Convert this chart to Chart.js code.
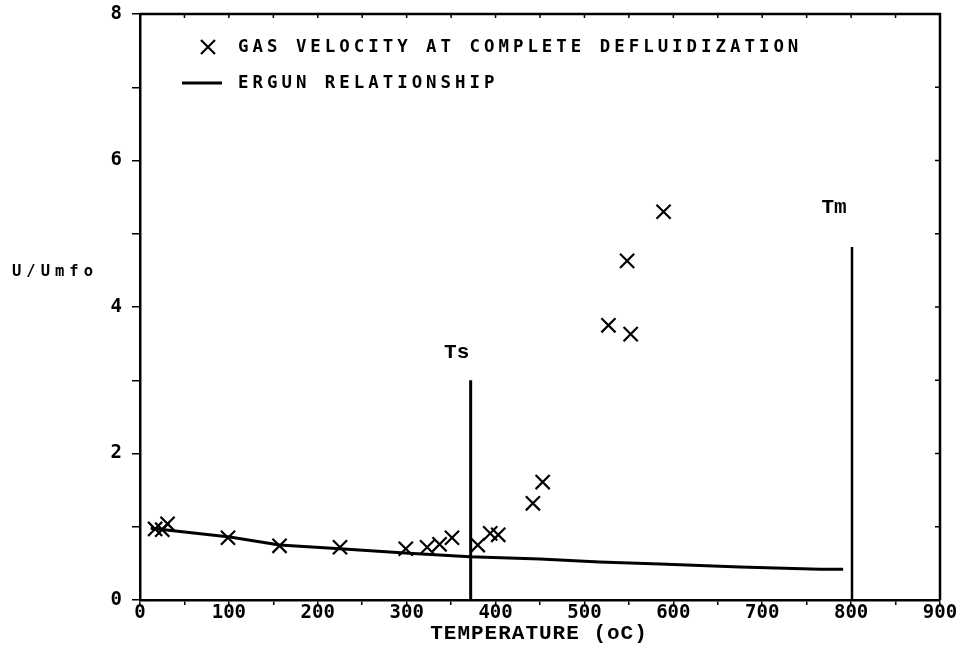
<!DOCTYPE html>
<html>
<head>
<meta charset="utf-8">
<script src="https://cdn.jsdelivr.net/npm/chart.js@4"></script>
<style>
html,body{margin:0;padding:0;background:#fff;}
#wrap{width:969px;height:654px;position:relative;}
</style>
</head>
<body>
<div id="wrap"><canvas id="c" width="969" height="654"></canvas></div>
<script>
// ---- data ----
const defluidTemps = [17, 25, 31, 99, 157, 225, 299, 323, 337, 351, 380, 394, 403, 442, 453, 527, 548, 552, 589];
const defluidRatio = [0.97, 0.96, 1.04, 0.85, 0.74, 0.72, 0.70, 0.72, 0.76, 0.85, 0.75, 0.91, 0.89, 1.32, 1.61, 3.75, 4.63, 3.63, 5.30];

const ergunTemps = [12, 101, 157, 225, 298, 371, 450, 517, 585, 675, 765, 791];
const ergunRatio = [0.98, 0.86, 0.75, 0.70, 0.64, 0.59, 0.56, 0.52, 0.49, 0.45, 0.42, 0.42];

const tsTemp = 372, tsTop = 3.0;
const tmTemp = 801, tmTop = 4.82;

const xTickLabels = [0, 100, 200, 300, 400, 500, 600, 700, 800, 900];
const yTickLabels = [0, 2, 4, 6, 8];

const legendLabels = ['GAS VELOCITY AT COMPLETE DEFLUIDIZATION', 'ERGUN RELATIONSHIP'];
const xTitle = 'TEMPERATURE (oC)';
const yTitle = 'U/Umfo';

// ---- chart ----
const pts = defluidTemps.map((t, i) => ({x: t, y: defluidRatio[i]}));
const ergun = ergunTemps.map((t, i) => ({x: t, y: ergunRatio[i]}));

const decor = {
  id: 'decor',
  afterDraw(chart) {
    const ctx = chart.ctx;
    const ca = chart.chartArea;
    const xs = chart.scales.x, ys = chart.scales.y;
    ctx.save();
    ctx.strokeStyle = '#000';
    ctx.fillStyle = '#000';
    // top & right frame
    ctx.lineWidth = 2.5;
    ctx.beginPath();
    ctx.moveTo(ca.left, ca.top); ctx.lineTo(ca.right, ca.top); ctx.lineTo(ca.right, ca.bottom);
    ctx.stroke();
    // inward ticks on top & right
    ctx.lineWidth = 1.5;
    for (let v = 50; v < 900; v += 50) {
      const px = xs.getPixelForValue(v);
      ctx.beginPath(); ctx.moveTo(px, ca.top); ctx.lineTo(px, ca.top + 4); ctx.stroke();
    }
    for (let v = 1; v < 8; v++) {
      const py = ys.getPixelForValue(v);
      ctx.beginPath(); ctx.moveTo(ca.right, py); ctx.lineTo(ca.right - 5, py); ctx.stroke();
    }
    // legend
    ctx.letterSpacing = '4px';
    ctx.font = 'bold 17.4px "DejaVu Sans Mono"';
    ctx.textBaseline = 'middle';
    ctx.textAlign = 'left';
    ctx.fillText(legendLabels[0], 238, 47);
    ctx.fillText(legendLabels[1], 238, 83);
    ctx.lineWidth = 2.2;
    ctx.beginPath();
    ctx.moveTo(201, 40); ctx.lineTo(215, 54);
    ctx.moveTo(215, 40); ctx.lineTo(201, 54);
    ctx.stroke();
    ctx.lineWidth = 3;
    ctx.beginPath(); ctx.moveTo(182, 83); ctx.lineTo(222, 83); ctx.stroke();
    // y title
    ctx.letterSpacing = '5px';
    ctx.font = 'bold 15.5px "DejaVu Sans Mono"';
    ctx.fillText(yTitle, 12, 272);
    // x title
    ctx.letterSpacing = '1px';
    ctx.font = 'bold 21px "Liberation Mono"';
    ctx.textAlign = 'center';
    ctx.fillText(xTitle, 539, 634);
    // Ts / Tm
    ctx.letterSpacing = '0px';
    ctx.fillText('Ts', xs.getPixelForValue(tsTemp) - 14, 353);
    ctx.fillText('Tm', xs.getPixelForValue(tmTemp) - 18, 208);
    ctx.restore();
  }
};

new Chart(document.getElementById('c'), {
  type: 'scatter',
  data: {
    datasets: [
      {label: legendLabels[0], data: pts, showLine: false, pointStyle: 'crossRot',
       pointRadius: 10, pointBorderWidth: 2.2, borderColor: '#000', backgroundColor: '#000', order: 0},
      {label: legendLabels[1], data: ergun, showLine: true, pointRadius: 0,
       borderColor: '#000', borderWidth: 3, tension: 0, order: 1},
      {label: 'Ts', data: [{x: tsTemp, y: 0}, {x: tsTemp, y: tsTop}], showLine: true,
       pointRadius: 0, borderColor: '#000', borderWidth: 3, order: 2},
      {label: 'Tm', data: [{x: tmTemp, y: 0}, {x: tmTemp, y: tmTop}], showLine: true,
       pointRadius: 0, borderColor: '#000', borderWidth: 2.5, order: 3}
    ]
  },
  options: {
    responsive: false,
    animation: false,
    layout: {padding: {top: 14, right: 29, left: 0, bottom: 0}},
    plugins: {legend: {display: false}, tooltip: {enabled: false}},
    scales: {
      x: {
        type: 'linear', min: 0, max: 900,
        afterFit: s => { s.height = 54; s.paddingRight = 0; s.paddingLeft = 0; },
        ticks: {
          stepSize: 50, autoSkip: false, maxRotation: 0, padding: -3,
          color: '#000', font: {family: '"DejaVu Sans Mono"', size: 19, weight: 'bold'},
          callback: v => xTickLabels.includes(v) ? String(v) : ''
        },
        grid: {drawOnChartArea: false, tickLength: 5, color: '#000', lineWidth: 1.5},
        border: {color: '#000', width: 2.5}
      },
      y: {
        min: 0, max: 8,
        afterFit: s => { s.width = 140; s.paddingTop = 0; s.paddingBottom = 0; },
        ticks: {
          stepSize: 1, autoSkip: false, padding: 10,
          color: '#000', font: {family: '"DejaVu Sans Mono"', size: 19, weight: 'bold'},
          callback: v => yTickLabels.includes(v) ? String(v) : ''
        },
        grid: {drawOnChartArea: false, tickLength: 8, color: '#000', lineWidth: 1.5},
        border: {color: '#000', width: 2.5}
      }
    }
  },
  plugins: [decor]
});
</script>
</body>
</html>
